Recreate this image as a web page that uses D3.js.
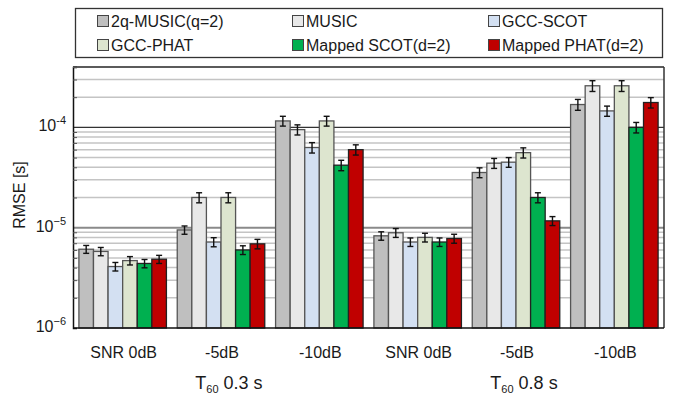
<!DOCTYPE html>
<html>
<head>
<meta charset="utf-8">
<script src="https://cdn.jsdelivr.net/npm/d3@7"></script>
<style>
  body { margin: 0; background: #fff; }
  text { font-family: "Liberation Sans", Arial, sans-serif; fill: #1a1a1a; }
</style>
</head>
<body>
<div id="chart"></div>
<script>
// categories (SNR per reverberation condition)
const groups = ["SNR 0dB", "-5dB", "-10dB", "SNR 0dB", "-5dB", "-10dB"];
const groupKeys = ["a0", "a5", "a10", "b0", "b5", "b10"];
const t60Labels = ["0.3 s", "0.8 s"];

// series names and colours
const seriesNames = ["2q-MUSIC(q=2)", "MUSIC", "GCC-SCOT", "GCC-PHAT", "Mapped SCOT(d=2)", "Mapped PHAT(d=2)"];
const seriesColors = ["#bfbfbf", "#e8e8e8", "#d3e0f2", "#dde5cf", "#00b050", "#c00000"];

// RMSE values [s], one per group
const music2q    = [6.1e-6, 9.5e-6, 1.16e-4, 8.3e-6, 3.55e-5, 1.69e-4];
const music      = [5.8e-6, 2.0e-5, 9.5e-5, 8.9e-6, 4.4e-5, 2.6e-4];
const gccScot    = [4.1e-6, 7.2e-6, 6.3e-5, 7.2e-6, 4.5e-5, 1.46e-4];
const gccPhat    = [4.7e-6, 2.0e-5, 1.16e-4, 8.0e-6, 5.6e-5, 2.6e-4];
const mappedScot = [4.4e-6, 6.0e-6, 4.2e-5, 7.2e-6, 2.0e-5, 1.0e-4];
const mappedPhat = [4.85e-6, 6.9e-6, 6.0e-5, 7.8e-6, 1.17e-5, 1.77e-4];

// error bar half widths [s]
const music2qErr    = [0.55e-6, 0.9e-6, 1.3e-5, 0.8e-6, 4e-6, 2.1e-5];
const musicErr      = [0.55e-6, 2.3e-6, 1.1e-5, 0.9e-6, 5e-6, 3.2e-5];
const gccScotErr    = [0.4e-6, 0.75e-6, 7.5e-6, 0.7e-6, 5e-6, 1.7e-5];
const gccPhatErr    = [0.45e-6, 2.3e-6, 1.3e-5, 0.8e-6, 6.5e-6, 3.2e-5];
const mappedScotErr = [0.42e-6, 0.6e-6, 5e-6, 0.7e-6, 2.3e-6, 1.2e-5];
const mappedPhatErr = [0.45e-6, 0.75e-6, 7e-6, 0.8e-6, 1.2e-6, 2.1e-5];

const seriesValues = [music2q, music, gccScot, gccPhat, mappedScot, mappedPhat];
const seriesErrors = [music2qErr, musicErr, gccScotErr, gccPhatErr, mappedScotErr, mappedPhatErr];

const W = 673, H = 396;
const MARGIN = {LEFT: 73, RIGHT: 9, TOP: 67, BOTTOM: 68};

const svg = d3.select("#chart").append("svg")
    .attr("width", W)
    .attr("height", H);

const x0 = d3.scaleBand()
    .domain(groupKeys)
    .range([MARGIN.LEFT, W - MARGIN.RIGHT])
    .paddingInner(0.11)
    .paddingOuter(0.06);

const x1 = d3.scaleBand()
    .domain(d3.range(seriesNames.length))
    .range([0, x0.bandwidth()]);

const y = d3.scaleLog()
    .domain([1e-6, 4e-4])
    .range([H - MARGIN.BOTTOM, MARGIN.TOP]);

// grid lines
const minorTicks = [];
[1e-6, 1e-5, 1e-4].forEach(dec => {
  for (let k = 2; k <= 9; k++) {
    if (dec * k <= 4e-4) minorTicks.push(dec * k);
  }
});

svg.append("g")
  .selectAll("line")
  .data(minorTicks)
  .join("line")
    .attr("x1", MARGIN.LEFT)
    .attr("x2", W - MARGIN.RIGHT)
    .attr("y1", d => y(d))
    .attr("y2", d => y(d))
    .attr("stroke", "#c4c4c4")
    .attr("stroke-width", 1.5);

svg.append("line")
    .attr("x1", MARGIN.LEFT).attr("x2", W - MARGIN.RIGHT)
    .attr("y1", y(1e-5)).attr("y2", y(1e-5))
    .attr("stroke", "#8a8a8a").attr("stroke-width", 2);

svg.append("line")
    .attr("x1", MARGIN.LEFT).attr("x2", W - MARGIN.RIGHT)
    .attr("y1", y(1e-4)).attr("y2", y(1e-4))
    .attr("stroke", "#333").attr("stroke-width", 1.3);

// bars
const groupG = svg.append("g")
  .selectAll("g")
  .data(groupKeys)
  .join("g")
    .attr("transform", d => `translate(${x0(d)},0)`);

groupG.selectAll("rect")
  .data((d, gi) => seriesValues.map((vals, si) => ({si, v: vals[gi], e: seriesErrors[si][gi]})))
  .join("rect")
    .attr("x", d => x1(d.si))
    .attr("y", d => y(d.v))
    .attr("width", x1.bandwidth())
    .attr("height", d => y(1e-6) - y(d.v))
    .attr("fill", d => seriesColors[d.si])
    .attr("stroke", d => d.si >= 4 ? "#222" : "#555")
    .attr("stroke-width", 1.3);

// error bars
const errG = groupG.selectAll("g.err")
  .data((d, gi) => seriesValues.map((vals, si) => ({si, v: vals[gi], e: seriesErrors[si][gi]})))
  .join("g")
    .attr("class", "err")
    .attr("transform", d => `translate(${x1(d.si) + x1.bandwidth() / 2},0)`)
    .attr("stroke", "#111")
    .attr("stroke-width", 1.4);

errG.append("line")
    .attr("y1", d => y(d.v - d.e))
    .attr("y2", d => y(d.v + d.e));
errG.append("line")
    .attr("x1", -3).attr("x2", 3)
    .attr("y1", d => y(d.v + d.e)).attr("y2", d => y(d.v + d.e));
errG.append("line")
    .attr("x1", -3).attr("x2", 3)
    .attr("y1", d => y(d.v - d.e)).attr("y2", d => y(d.v - d.e));

// frame
svg.append("line")
    .attr("x1", MARGIN.LEFT).attr("x2", W - MARGIN.RIGHT)
    .attr("y1", MARGIN.TOP).attr("y2", MARGIN.TOP)
    .attr("stroke", "#333").attr("stroke-width", 1.5);
svg.append("line")
    .attr("x1", W - MARGIN.RIGHT).attr("x2", W - MARGIN.RIGHT)
    .attr("y1", MARGIN.TOP).attr("y2", H - MARGIN.BOTTOM)
    .attr("stroke", "#333").attr("stroke-width", 1.5);

// y axis
const yAxis = d3.axisRight(y)
    .tickValues(minorTicks)
    .tickSize(4)
    .tickFormat("");
svg.append("g")
    .attr("transform", `translate(${MARGIN.LEFT},0)`)
    .call(yAxis)
    .call(g => g.select(".domain").attr("stroke", "#111").attr("stroke-width", 1.5))
    .call(g => g.selectAll(".tick line").attr("stroke", "#555"));

const yLabels = [{v: 1e-4, exp: "-4"}, {v: 1e-5, exp: "\u22125"}, {v: 1e-6, exp: "\u22126"}];
const yl = svg.append("g")
  .selectAll("text")
  .data(yLabels)
  .join("text")
    .attr("x", 66)
    .attr("y", d => y(d.v) + 4)
    .attr("text-anchor", "end")
    .attr("font-size", 16);
yl.append("tspan").text("10");
yl.append("tspan")
    .attr("font-size", 11)
    .attr("dy", -7)
    .text(d => d.exp);

// x axis line
svg.append("line")
    .attr("x1", MARGIN.LEFT).attr("x2", W - MARGIN.RIGHT)
    .attr("y1", y(1e-6)).attr("y2", y(1e-6))
    .attr("stroke", "#111").attr("stroke-width", 1.5);

// category labels
svg.append("g")
  .selectAll("text")
  .data(groupKeys)
  .join("text")
    .attr("x", d => x0(d) + x0.bandwidth() / 2 + 1)
    .attr("y", 358)
    .attr("text-anchor", "middle")
    .attr("font-size", 16)
    .text((d, i) => groups[i]);

// T60 labels
const tl = svg.append("g")
  .selectAll("text")
  .data(t60Labels)
  .join("text")
    .attr("x", (d, i) => x0(groupKeys[i * 3 + 1]) + x0.bandwidth() / 2 + 8)
    .attr("y", 389)
    .attr("text-anchor", "middle")
    .attr("font-size", 18);
tl.append("tspan").text("T");
tl.append("tspan").attr("font-size", 11).attr("dy", 4).text("60");
tl.append("tspan").attr("dy", -4).text(d => " " + d);

// y axis title
svg.append("text")
    .attr("transform", `translate(25,195) rotate(-90)`)
    .attr("text-anchor", "middle")
    .attr("font-size", 16)
    .text("RMSE [s]");

// legend
const legend = svg.append("g");
legend.append("rect")
    .attr("x", 75.5).attr("y", 8.5)
    .attr("width", 587).attr("height", 49)
    .attr("fill", "#fff")
    .attr("stroke", "#333")
    .attr("stroke-width", 1.3);

const legX = [97, 292, 488];
const legY = [21, 45];
const li = legend.selectAll("g.item")
  .data(seriesNames)
  .join("g")
    .attr("class", "item")
    .attr("transform", (d, i) => `translate(${legX[i % 3]},${legY[Math.floor(i / 3)]})`);
li.append("rect")
    .attr("x", 0.5).attr("y", -5.5)
    .attr("width", 11).attr("height", 11)
    .attr("fill", (d, i) => seriesColors[i])
    .attr("stroke", "#444")
    .attr("stroke-width", 1);
li.append("text")
    .attr("x", 14)
    .attr("y", 6)
    .attr("font-size", 16)
    .text(d => d);
</script>
</body>
</html>
